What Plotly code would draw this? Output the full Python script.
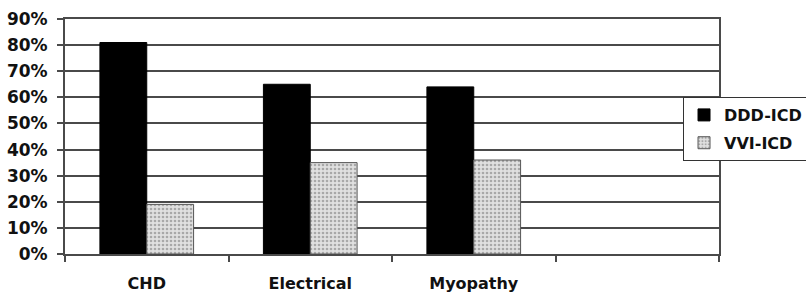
import plotly.graph_objects as go

categories = ["CHD", "Electrical", "Myopathy", " "]
ddd_icd = [81, 65, 64, None]
vvi_icd = [19, 35, 36, None]
y_ticks = [0, 10, 20, 30, 40, 50, 60, 70, 80, 90]
y_tick_labels = ["0%", "10%", "20%", "30%", "40%", "50%", "60%", "70%", "80%", "90%"]

FONT = "DejaVu Sans"

fig = go.Figure()
fig.add_trace(go.Bar(
    x=categories, y=ddd_icd, name="DDD-ICD",
    marker=dict(color="#000000", line=dict(color="#000000", width=1)),
    legendgroup="a",
))
fig.add_trace(go.Bar(
    x=categories, y=vvi_icd, name="VVI-ICD",
    marker=dict(color="#d8d8d8", line=dict(color="#555555", width=1),
                pattern=dict(shape=".", fgcolor="#707070", bgcolor="#e0e0e0",
                             size=4, solidity=0.35)),
    legendgroup="b",
))

axis_col = "#4a4a4a"
fig.update_layout(
    width=806, height=295,
    margin=dict(l=65, r=87, t=19, b=41, autoexpand=False),
    paper_bgcolor="white", plot_bgcolor="white",
    barmode="group", bargap=0.427, bargroupgap=0,
    showlegend=True,
    legend=dict(x=0.945, y=0.668, xanchor="left", yanchor="top",
                bgcolor="white", bordercolor="#333333", borderwidth=1,
                font=dict(family=FONT, size=16, color="#111111", weight="bold"),
                tracegroupgap=4, itemwidth=30),
    xaxis=dict(
        type="category", categoryorder="array", categoryarray=categories,
        range=[-0.5, 3.5], automargin=False,
        showline=True, linecolor=axis_col, linewidth=2, mirror=True,
        ticks="outside", tickson="boundaries", ticklen=6, tickwidth=2, tickcolor=axis_col,
        ticklabelstandoff=14,
        tickfont=dict(family=FONT, size=16, color="#111111", weight="bold"),
        showgrid=False,
    ),
    yaxis=dict(
        range=[0, 90], tickvals=y_ticks, ticktext=y_tick_labels, automargin=False,
        showline=True, linecolor=axis_col, linewidth=2, mirror=True,
        ticks="outside", ticklen=6, tickwidth=2, tickcolor=axis_col,
        ticklabelstandoff=6,
        showgrid=True, gridcolor=axis_col, gridwidth=2,
        zeroline=False,
        tickfont=dict(family=FONT, size=17, color="#111111", weight="bold"),
    ),
)

fig.write_html("out.html", config={"displayModeBar": False},
               post_script="document.body.style.margin='0';")
